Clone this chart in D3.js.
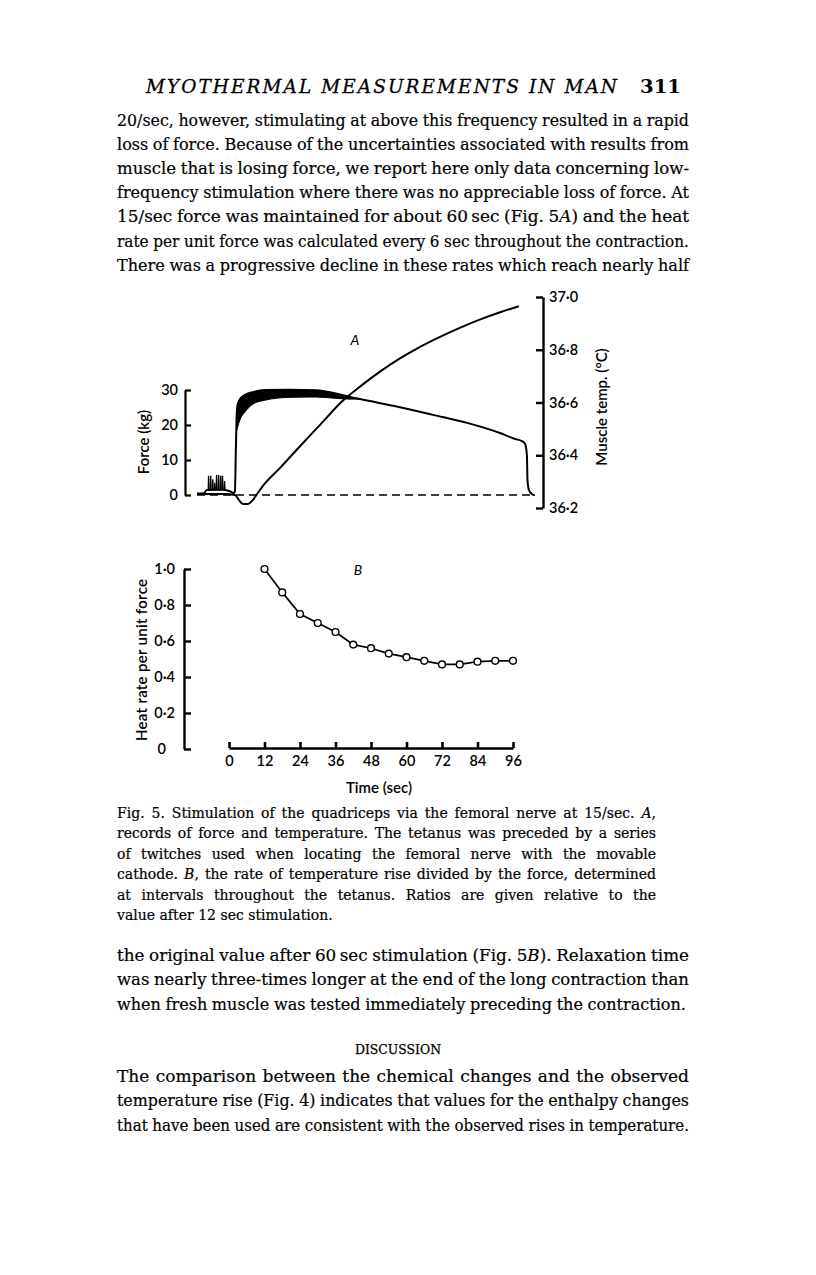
<!DOCTYPE html>
<html><head><meta charset="utf-8">
<script src="https://cdn.jsdelivr.net/npm/d3@7"></script>
<style>body{margin:0;background:#fff}svg{display:block}</style>
</head><body>
<svg id="page" width="816" height="1275"></svg>
<script>
// ---------------- data ----------------
const forceTicks = [0, 10, 20, 30];
const tempTicks = [36.2, 36.4, 36.6, 36.8, 37.0];
const heatTicks = [0, 0.2, 0.4, 0.6, 0.8, 1.0];
const timeTicks = [0, 12, 24, 36, 48, 60, 72, 84, 96];

// Panel B: heat rate per unit force (relative), every 6 sec
const heatTime = [12, 18, 24, 30, 36, 42, 48, 54, 60, 66, 72, 78, 84, 90, 96];
const heatRate = [1.0, 0.87, 0.75, 0.70, 0.65, 0.58, 0.56, 0.53, 0.51, 0.49, 0.47, 0.47, 0.485, 0.49, 0.49];

// Panel A: force trace (kg) against time (sec)
const forceTime  = [-10.8, -8.5, -7.5, -2.0, 0.5, 1.4, 2.0, 2.3, 2.6, 2.9, 3.7, 5.4, 8.1, 12.2, 20.6, 29.1, 36.5, 40.9, 44.3, 57.8, 69.0, 80.5, 91.6, 96.7, 99.0, 100.1, 100.7, 100.9, 101.4, 102.4, 103.4];
const forceValue = [0.4, 0.5, 1.4, 1.5, 1.0, 0.6, 0.8, 12.0, 22.9, 25.7, 27.4, 28.6, 29.4, 30.0, 30.1, 29.9, 28.9, 28.0, 27.4, 25.1, 22.9, 20.6, 17.7, 16.0, 15.4, 14.6, 11.4, 4.3, 1.4, 0.3, -0.1];
// Panel A: thick band of unfused force early in the tetanus
const bandTime  = [2.6, 2.9, 3.7, 5.4, 8.1, 12.2, 20.6, 29.1, 36.5, 40.9, 44.3];
const bandUpper = [22.9, 25.7, 27.4, 28.6, 29.4, 30.0, 30.1, 29.9, 28.9, 28.0, 27.4];
const bandLower = [18.6, 19.4, 21.5, 23.7, 26.0, 27.1, 27.9, 28.0, 27.6, 27.4, 27.4];
// Panel A: preceding twitches
const twitchTime  = [-6.9, -6.2, -5.5, -4.8, -4.2, -3.5, -2.8, -2.2, -1.5];
const twitchForce = [5.5, 5.5, 4.5, 3.5, 5.7, 5.7, 5.5, 5.5, 4.0];
// Panel A: muscle temperature (°C)
const tempTime  = [-10.8, -1.4, 2.0, 3.4, 4.7, 6.4, 7.8, 9.5, 11.2, 17.6, 24.3, 31.1, 37.9, 44.6, 51.4, 58.2, 64.9, 71.7, 78.4, 85.2, 91.9, 98.0];
const tempValue = [36.253, 36.253, 36.249, 36.230, 36.215, 36.215, 36.227, 36.253, 36.280, 36.356, 36.438, 36.519, 36.601, 36.663, 36.720, 36.770, 36.813, 36.851, 36.885, 36.916, 36.943, 36.965];
// zero-force dashed reference
const zeroTime = [-10.8, 103.0];

// ---------------- text ----------------
const headerText = "MYOTHERMAL MEASUREMENTS IN MAN";
const pageNumber = "311";
const para1 = [
  "20/sec, however, stimulating at above this frequency resulted in a rapid",
  "loss of force. Because of the uncertainties associated with results from",
  "muscle that is losing force, we report here only data concerning low-",
  "frequency stimulation where there was no appreciable loss of force. At",
  "15/sec force was maintained for about 60\u2009sec (Fig. 5*A*) and the heat",
  "rate per unit force was calculated every 6 sec throughout the contraction.",
  "There was a progressive decline in these rates which reach nearly half"
];
const caption = [
  "Fig. 5. Stimulation of the quadriceps via the femoral nerve at 15/sec. *A*,",
  "records of force and temperature. The tetanus was preceded by a series",
  "of twitches used when locating the femoral nerve with the movable",
  "cathode. *B*, the rate of temperature rise divided by the force, determined",
  "at intervals throughout the tetanus. Ratios are given relative to the",
  "value after 12 sec stimulation."
];
const para2 = [
  "the original value after 60\u2009sec stimulation (Fig. 5*B*). Relaxation time",
  "was nearly three-times longer at the end of the long contraction than",
  "when fresh muscle was tested immediately preceding the contraction."
];
const sectionTitle = "DISCUSSION";
const para3 = [
  "The comparison between the chemical changes and the observed",
  "temperature rise (Fig. 4) indicates that values for the enthalpy changes",
  "that have been used are consistent with the observed rises in temperature."
];

// ---------------- drawing ----------------
const svg = d3.select('#page');
const serif = "'DejaVu Serif', serif";
const sans = "Lato, 'Open Sans', sans-serif";
const ink = '#000';

function setLine(str, x0, x1, y, size, justify) {
  const g = svg.append('g').attr('font-family', serif).attr('font-size', size)
    .attr('fill', ink).attr('stroke', ink).attr('stroke-width', 0.2);
  const words = str.split(' ');
  const nodes = words.map(w => {
    const wg = g.append('g');
    const t = wg.append('text').attr('x', 0).attr('y', 0);
    w.split(/(\*[^*]+\*)/).filter(s => s.length).forEach(seg => {
      if (seg[0] === '*') t.append('tspan').attr('font-style', 'italic').text(seg.slice(1, -1));
      else t.append('tspan').text(seg);
    });
    return { wg, t };
  });
  const widths = nodes.map(n => n.t.node().getComputedTextLength());
  const W = d3.sum(widths);
  const target = x1 - x0, n = words.length;
  const minGap = size * 0.27;
  let k = 1, gap = size * 0.32;
  if (justify && n > 1) {
    if (W + (n - 1) * minGap > target) { k = (target - (n - 1) * minGap) / W; gap = minGap; }
    else gap = (target - W) / (n - 1);
  } else if (W + (n - 1) * gap > target) {
    k = (target - (n - 1) * gap) / W;
  }
  let x = x0;
  nodes.forEach((nd, i) => {
    nd.wg.attr('transform', `translate(${x},${y}) scale(${k},1)`);
    x += widths[i] * k + gap;
  });
}

const L = 117, R = 689;
// running head
svg.append('text').attr('x', 146).attr('y', 93)
  .attr('font-family', serif).attr('font-style', 'italic').attr('font-size', 18.5)
  .attr('fill', ink).attr('stroke', ink).attr('stroke-width', 0.3)
  .attr('textLength', 471).attr('lengthAdjust', 'spacing').text(headerText);
svg.append('text').attr('x', 640).attr('y', 93)
  .attr('font-family', serif).attr('font-size', 18.5).attr('font-weight', 'bold').attr('fill', ink)
  .attr('textLength', 41).attr('lengthAdjust', 'spacingAndGlyphs').text(pageNumber);

para1.forEach((s, i) => setLine(s, L, R, 125.5 + i * 24.2, 17, true));
caption.forEach((s, i) => setLine(s, L, 656, 818 + i * 20.4, 14, i < caption.length - 1));
para2.forEach((s, i) => setLine(s, L, i < 2 ? R : 686, 961 + i * 24.4, 17, true));
svg.append('text').attr('x', 355).attr('y', 1054)
  .attr('font-family', serif).attr('font-size', 12.5).attr('fill', ink).attr('stroke', ink).attr('stroke-width', 0.25)
  .attr('textLength', 86).attr('lengthAdjust', 'spacingAndGlyphs').text(sectionTitle);
para3.forEach((s, i) => setLine(s, L, R, 1082 + i * 24.4, 17, true));

// ---------------- chart scales ----------------
const xT = d3.scaleLinear().domain([0, 96]).range([229, 513]);
const forceY = d3.scaleLinear().domain([0, 30]).range([495, 390]);
const tempY = d3.scaleLinear().domain([36.2, 37.0]).range([508, 297]);
const heatY = d3.scaleLinear().domain([0, 1]).range([749, 569]);
const dotFmt = d => d === 0 ? '0' : d.toFixed(1).replace('.', '\u00B7');

function styleAxis(g, w) {
  g.attr('font-family', sans).attr('font-size', 14.5).attr('font-weight', 600);
  g.selectAll('.domain').attr('stroke', '#000').attr('stroke-width', w);
  g.selectAll('.tick line').attr('stroke', '#000').attr('stroke-width', w);
  g.selectAll('.tick text').attr('fill', ink);
}

// Panel A axes
const gF = svg.append('g').attr('transform', 'translate(185,0)')
  .call(d3.axisLeft(forceY).tickValues(forceTicks).tickSizeInner(-6).tickSizeOuter(0).tickPadding(7).tickFormat(d3.format('d')));
styleAxis(gF, 2.2);
const gTm = svg.append('g').attr('transform', 'translate(543,0)')
  .call(d3.axisRight(tempY).tickValues(tempTicks).tickSizeInner(-7).tickSizeOuter(0).tickPadding(6).tickFormat(dotFmt));
styleAxis(gTm, 2.4);

// Panel B axes
const gH = svg.append('g').attr('transform', 'translate(184,0)')
  .call(d3.axisLeft(heatY).tickValues(heatTicks).tickSizeInner(-7).tickSizeOuter(0).tickPadding(9).tickFormat(dotFmt));
styleAxis(gH, 2.4);
gH.selectAll('.tick').filter(d => d === 0).select('text').attr('dx', -9);
const gX = svg.append('g').attr('transform', 'translate(0,748)')
  .call(d3.axisBottom(xT).tickValues(timeTicks).tickSizeInner(-6).tickSizeOuter(0).tickPadding(8));
styleAxis(gX, 2.6);

// axis titles
function label(txt, x, y, rot, extra) {
  const t = svg.append('text').attr('transform', `translate(${x},${y})` + (rot ? ` rotate(${rot})` : ''))
    .attr('text-anchor', 'middle').attr('dominant-baseline', 'central')
    .attr('font-family', sans).attr('font-size', 15).attr('font-weight', 600).attr('fill', ink).text(txt);
  if (extra) extra(t);
  return t;
}
label('Force (kg)', 143, 442, -90);
label('Muscle temp. (\u00B0C)', 601, 407, -90);
label('Heat rate per unit force', 141, 660, -90, t => t.attr('textLength', 162).attr('lengthAdjust', 'spacing'));
label('Time (sec)', 379, 787, 0);
label('A', 355, 339, 0, t => t.attr('font-style', 'italic').attr('font-weight', 400).attr('font-size', 14));
label('B', 358, 569, 0, t => t.attr('font-style', 'italic').attr('font-weight', 400).attr('font-size', 14));

// Panel A traces
svg.append('path')
  .attr('d', d3.line().x(d => xT(d)).y(() => forceY(0))(zeroTime))
  .attr('stroke', '#000').attr('stroke-width', 1.7).attr('stroke-dasharray', '8,5').attr('fill', 'none');

const bandIdx = d3.range(bandTime.length);
svg.append('path')
  .attr('d', d3.area().x(i => xT(bandTime[i])).y0(i => forceY(bandLower[i])).y1(i => forceY(bandUpper[i]))
    .curve(d3.curveMonotoneX)(bandIdx))
  .attr('fill', '#000').attr('stroke', '#000').attr('stroke-width', 1);

const fIdx = d3.range(forceTime.length);
svg.append('path')
  .attr('d', d3.line().x(i => xT(forceTime[i])).y(i => forceY(forceValue[i])).curve(d3.curveMonotoneX)(fIdx))
  .attr('fill', 'none').attr('stroke', '#000').attr('stroke-width', 2);

twitchTime.forEach((t, i) => {
  svg.append('path')
    .attr('d', d3.line().x(p => xT(p[0])).y(p => forceY(p[1]))([[t - 0.12, 1.4], [t, twitchForce[i]], [t + 0.18, 1.4]]))
    .attr('fill', 'none').attr('stroke', '#000').attr('stroke-width', 1.3);
});

const tIdx = d3.range(tempTime.length);
svg.append('path')
  .attr('d', d3.line().x(i => xT(tempTime[i])).y(i => tempY(tempValue[i])).curve(d3.curveMonotoneX)(tIdx))
  .attr('fill', 'none').attr('stroke', '#000').attr('stroke-width', 2);

// Panel B series
const hIdx = d3.range(heatTime.length);
svg.append('path')
  .attr('d', d3.line().x(i => xT(heatTime[i])).y(i => heatY(heatRate[i]))(hIdx))
  .attr('fill', 'none').attr('stroke', '#000').attr('stroke-width', 1.7);
svg.selectAll('circle.pt').data(hIdx).enter().append('circle').attr('class', 'pt')
  .attr('cx', i => xT(heatTime[i])).attr('cy', i => heatY(heatRate[i])).attr('r', 3.4)
  .attr('fill', '#fff').attr('stroke', '#000').attr('stroke-width', 1.4);
</script>
</body></html>
